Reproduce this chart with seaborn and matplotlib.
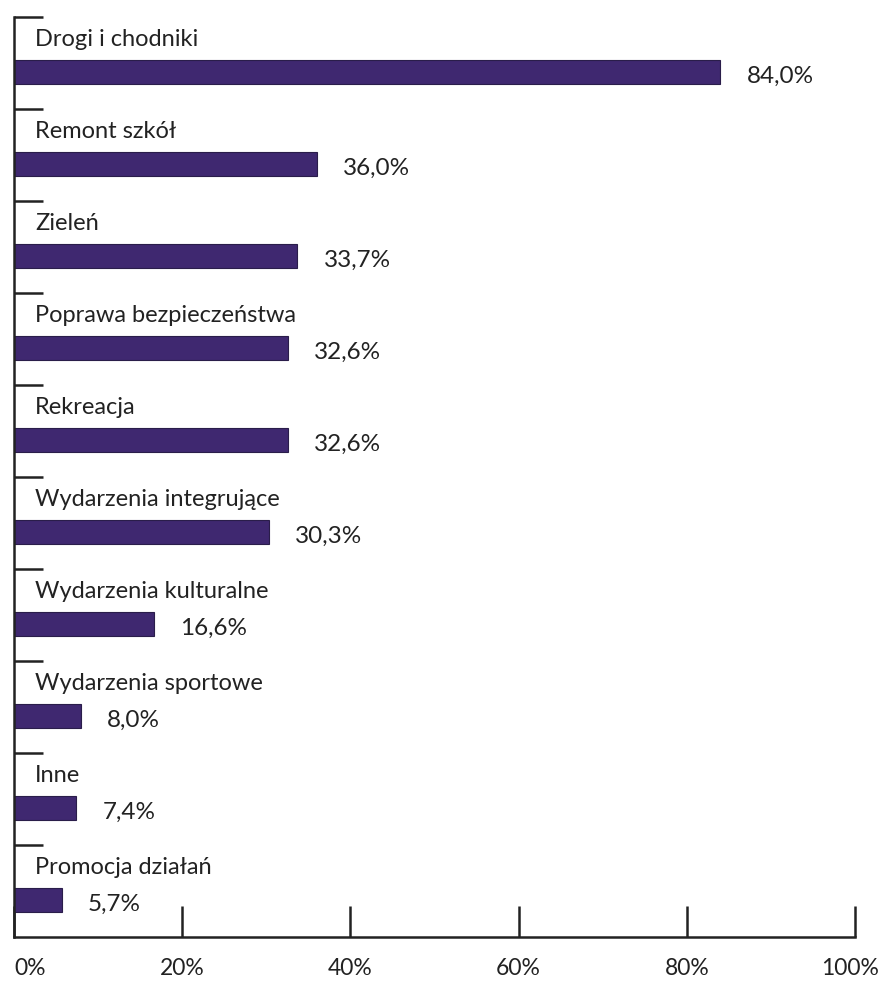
import numpy as np, pandas as pd
import seaborn as sns, matplotlib.pyplot as plt
from matplotlib.transforms import ScaledTranslation

# ────────── data ──────────
categories = ["Drogi i chodniki", "Remont szkół", "Zieleń", "Poprawa bezpieczeństwa",
              "Rekreacja", "Wydarzenia integrujące", "Wydarzenia kulturalne",
              "Wydarzenia sportowe", "Inne", "Promocja działań"]
values = [84.0, 36.0, 33.7, 32.6, 32.6, 30.3, 16.6, 8.0, 7.4, 5.7]
xticks = [0, 20, 40, 60, 80, 100]

BAR_COLOR = "#3f2870"
TEXT_COLOR = "#222222"
FONT = ["Lato", "DejaVu Sans"]

df = pd.DataFrame({"cat": categories, "val": values})

sns.set_style("white")
plt.rcParams["font.family"] = FONT

fig = plt.figure(figsize=(8.82, 9.84), dpi=100)
ax = fig.add_axes([14/882, 1-937/984, (855-14)/882, (937-17)/984])

sns.barplot(data=df, x="val", y="cat", orient="h", color=BAR_COLOR,
            width=0.26, edgecolor="#2a1d4a", linewidth=0.8, ax=ax, saturation=1)

n = len(categories)
ax.set_xlim(0, 100)
ax.set_ylim(n - 0.6, -0.6)

# band boundaries as y ticks (pointing inward)
ax.set_yticks([i - 0.6 for i in range(n)])
ax.set_yticklabels([])
ax.set_xticks(xticks)
ax.set_xticklabels([f"{t}%" for t in xticks], fontsize=16.5, color=TEXT_COLOR)
ax.tick_params(axis="y", left=True, direction="in", length=21, width=1.8, color="#222")
ax.tick_params(axis="x", bottom=True, direction="in", length=22, width=1.8,
               color="#222", pad=15)
ax.set_xlabel(""); ax.set_ylabel("")

# keep edge labels inside the figure
labels = ax.get_xticklabels()
labels[0].set_ha("left")
labels[-1].set_transform(labels[-1].get_transform() +
                         ScaledTranslation(-5/100, 0, fig.dpi_scale_trans))

for s in ["top", "right"]:
    ax.spines[s].set_visible(False)
for s in ["left", "bottom"]:
    ax.spines[s].set_linewidth(1.8)
    ax.spines[s].set_color("#222")
    ax.spines[s].set_capstyle("projecting")

for i, (c, v) in enumerate(zip(categories, values)):
    ax.text(2.5, i - 0.36, c, fontsize=17, color=TEXT_COLOR, va="center", ha="left")
    ax.text(v + 3.1, i + 0.04, f"{v:.1f}%".replace(".", ","), fontsize=17.5,
            color=TEXT_COLOR, va="center", ha="left")

fig.savefig("out.png", dpi=100)
